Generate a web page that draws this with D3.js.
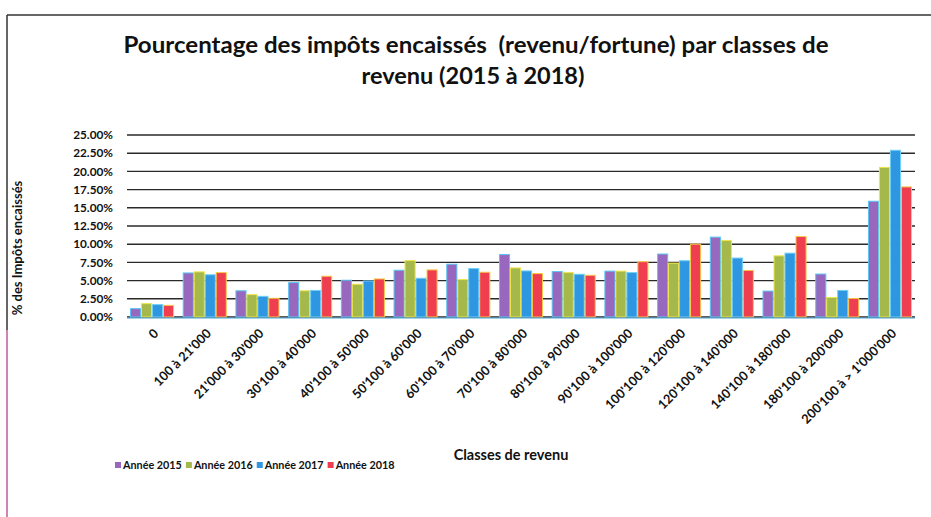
<!DOCTYPE html>
<html lang="fr">
<head>
<meta charset="UTF-8">
<title>Pourcentage des impôts encaissés</title>
<script src="https://cdn.jsdelivr.net/npm/d3@7"></script>
<style>
  body { margin: 0; background: #fff; }
  text { font-family: Lato, "Open Sans", sans-serif; font-weight: bold; fill: #111; }
</style>
</head>
<body>
<script>
// income classes (x axis)
const classes = ["0", "100 à 21'000", "21'000 à 30'000", "30'100 à 40'000", "40'100 à 50'000",
  "50'100 à 60'000", "60'100 à 70'000", "70'100 à 80'000", "80'100 à 90'000", "90'100 à 100'000",
  "100'100 à 120'000", "120'100 à 140'000", "140'100 à 180'000", "180'100 à 200'000", "200'100 à > 1'000'000"];

// share of taxes collected, in %
const annee2015 = [1.15, 6.05, 3.6, 4.72, 5.05, 6.42, 7.25, 8.58, 6.24, 6.3, 8.65, 10.97, 3.56, 5.9, 15.9];
const annee2016 = [1.83, 6.2, 3.07, 3.6, 4.5, 7.75, 5.14, 6.74, 6.1, 6.3, 7.4, 10.5, 8.4, 2.68, 20.55];
const annee2017 = [1.7, 5.8, 2.84, 3.65, 4.95, 5.32, 6.65, 6.33, 5.87, 6.1, 7.73, 8.1, 8.77, 3.65, 22.9];
const annee2018 = [1.6, 6.1, 2.57, 5.6, 5.23, 6.47, 6.15, 5.96, 5.73, 7.6, 10.0, 6.4, 11.06, 2.55, 17.87];

const seriesNames = ["Année 2015", "Année 2016", "Année 2017", "Année 2018"];
const yTicks = [0, 2.5, 5, 7.5, 10, 12.5, 15, 17.5, 20, 22.5, 25];

const series = [annee2015, annee2016, annee2017, annee2018];
const fills = ["#9868bf", "#a4b84c", "#2f96e2", "#ef3e4f"];
const edges = ["#58c4f4", "#eee44a", "#6fd0f6", "#f7c94a"];

const W = 931, H = 517;
const svg = d3.select("body").append("svg").attr("width", W).attr("height", H);

// scanned page frame
svg.append("line").attr("x1", 7).attr("x2", W).attr("y1", 15).attr("y2", 15)
  .attr("stroke", "#333").attr("stroke-width", 1.5);
svg.append("line").attr("x1", 7).attr("x2", 7).attr("y1", 15).attr("y2", 330)
  .attr("stroke", "#333").attr("stroke-width", 1.5);
svg.append("line").attr("x1", 7).attr("x2", 7).attr("y1", 330).attr("y2", H)
  .attr("stroke", "#c05a9c").attr("stroke-width", 1.5);

const x0 = d3.scaleBand().domain(classes).range([127, 915]).paddingInner(0.15).paddingOuter(0.05);
const x1 = d3.scaleBand().domain(d3.range(4)).range([0, x0.bandwidth()]).padding(0.08);
const y = d3.scaleLinear().domain([0, 25]).range([317, 135]);

// gridlines
svg.append("g").selectAll("line").data(yTicks).join("line")
  .attr("x1", 127).attr("x2", 915)
  .attr("y1", d => y(d)).attr("y2", d => y(d))
  .attr("stroke", "#2a2a2a").attr("stroke-width", 1.4);

// y axis labels
svg.append("g").attr("transform", "translate(113,0)")
  .call(d3.axisLeft(y).tickValues(yTicks).tickSize(0).tickPadding(0).tickFormat(d => d3.format(".2f")(d) + "%"))
  .call(g => g.select(".domain").remove())
  .call(g => g.selectAll("text").style("font-size", "11.8px").style("font-family", "Lato, sans-serif")
    .style("font-weight", "bold").attr("fill", "#111"));

// bars
const groups = svg.append("g").selectAll("g").data(classes).join("g")
  .attr("transform", d => `translate(${x0(d)},0)`);
groups.selectAll("rect")
  .data((d, i) => series.map((s, k) => ({k: k, v: s[i]})))
  .join("rect")
  .attr("x", d => x1(d.k))
  .attr("width", x1.bandwidth())
  .attr("y", d => y(d.v))
  .attr("height", d => y(0) - y(d.v))
  .attr("fill", d => fills[d.k])
  .attr("stroke", d => edges[d.k])
  .attr("stroke-width", 1);

// baseline
svg.append("line").attr("x1", 127).attr("x2", 915).attr("y1", y(0) + 1).attr("y2", y(0) + 1)
  .attr("stroke", "#4aa6d8").attr("stroke-width", 1.2);

// rotated category labels
svg.append("g").selectAll("text").data(classes).join("text")
  .attr("transform", d => `translate(${x0(d) + x0.bandwidth() / 2 + 4},331) rotate(-45)`)
  .attr("text-anchor", "end")
  .attr("dy", "0.35em")
  .style("font-size", "12.8px")
  .text(d => d);

// titles
svg.append("text").attr("x", 476).attr("y", 53).attr("text-anchor", "middle")
  .attr("xml:space", "preserve")
  .attr("textLength", 705).attr("lengthAdjust", "spacingAndGlyphs")
  .style("font-size", "23.5px").text("Pourcentage des impôts encaissés  (revenu/fortune) par classes de");
svg.append("text").attr("x", 473).attr("y", 84).attr("text-anchor", "middle")
  .style("font-size", "23.5px").text("revenu (2015 à 2018)");

svg.append("text").attr("transform", "translate(22,248) rotate(-90)").attr("text-anchor", "middle")
  .style("font-size", "13px").text("% des Impôts encaissés");

svg.append("text").attr("x", 511).attr("y", 460).attr("text-anchor", "middle")
  .style("font-size", "14.5px").text("Classes de revenu");

// legend, each entry placed after the previous label
const legend = svg.append("g").attr("transform", "translate(115,469)");
let lx = 0;
seriesNames.forEach((name, k) => {
  const g = legend.append("g").attr("transform", `translate(${lx},0)`);
  g.append("rect").attr("x", 0).attr("y", -7).attr("width", 6).attr("height", 6).attr("fill", fills[k]);
  const t = g.append("text").attr("x", 8).attr("y", 0).style("font-size", "10.8px").text(name);
  lx += 8 + t.node().getComputedTextLength() + 4;
});
</script>
</body>
</html>
